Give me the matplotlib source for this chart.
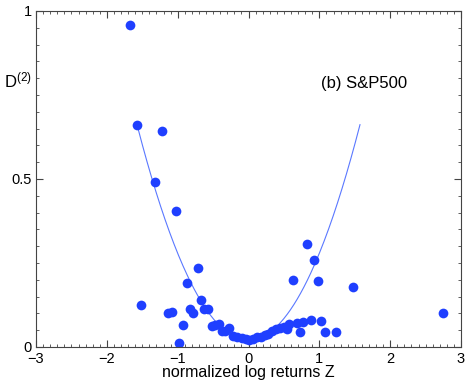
import numpy as np
import matplotlib
matplotlib.use('Agg')
import matplotlib.pyplot as plt
from matplotlib.ticker import MultipleLocator, FuncFormatter

# normalized log returns Z and D(2) values
z = [-1.67, -1.574, -1.22, -1.32, -1.02, -1.52, -1.13, -1.076, -0.93, -0.977,
     -0.87, -0.72, -0.826, -0.78, -0.675, -0.628, -0.567, -0.52, -0.473, -0.42,
     -0.37, -0.33, -0.27, -0.215, -0.158, -0.096, -0.035, 0.011, 0.068, 0.124,
     0.172, 0.233, 0.28, 0.33, 0.39, 0.445, 0.50, 0.548, 0.576, 0.68,
     0.727, 0.774, 0.878, 1.024, 1.08, 1.23, 0.628, 0.82, 0.93, 0.977,
     1.475, 2.74]
d2 = [0.958, 0.661, 0.643, 0.491, 0.405, 0.125, 0.100, 0.103, 0.066, 0.013,
      0.190, 0.234, 0.112, 0.102, 0.139, 0.112, 0.112, 0.063, 0.065, 0.069,
      0.047, 0.047, 0.057, 0.034, 0.031, 0.028, 0.024, 0.021, 0.024, 0.029,
      0.031, 0.036, 0.040, 0.049, 0.053, 0.056, 0.060, 0.054, 0.068, 0.070,
      0.044, 0.073, 0.080, 0.077, 0.046, 0.046, 0.198, 0.306, 0.258, 0.197,
      0.180, 0.102]

# parabolic fit a*Z^2 + c
fit_a = 0.259
fit_c = 0.02
zfit = np.linspace(-1.574, 1.574, 200)
dfit = fit_a * zfit**2 + fit_c

plt.rcParams['font.family'] = ['Liberation Sans', 'DejaVu Sans']

fig = plt.figure(figsize=(4.69, 3.82), dpi=100)
ax = fig.add_axes([36/469, 35/382, 425/469, 336/382])

ax.plot(zfit, dfit, '-', color='#5a78ff', linewidth=0.8)
ax.plot(z, d2, 'o', color='#1f3fff', markersize=7, markeredgewidth=0)

ax.set_xlim(-3, 3)
ax.set_ylim(0, 1)
ax.xaxis.set_major_locator(MultipleLocator(1))
ax.xaxis.set_minor_locator(MultipleLocator(0.1))
ax.yaxis.set_major_locator(MultipleLocator(0.5))
ax.yaxis.set_minor_locator(MultipleLocator(0.05))
ax.yaxis.set_major_formatter(FuncFormatter(lambda v, p: '%g' % v))
ax.tick_params(which='both', direction='in', top=True, right=True, labelsize=10.5, color='#444444')
ax.tick_params(axis='x', which='major', length=5, pad=3.5)
ax.tick_params(axis='y', which='major', length=5, pad=3)
ax.tick_params(which='minor', length=2.5)
for s in ax.spines.values():
    s.set_color('#444444')

fig.text(248.5/469, 1 - 372/382, 'normalized log returns Z', fontsize=11.5, ha='center', va='center')
fig.text(4/469, 1 - 80/382, '$\\mathregular{D^{(2)}}$', fontsize=12, va='center', ha='left')
ax.text(1.02, 0.785, '(b) S&P500', fontsize=12, ha='left', va='center')

fig.savefig('out.png', dpi=100)
